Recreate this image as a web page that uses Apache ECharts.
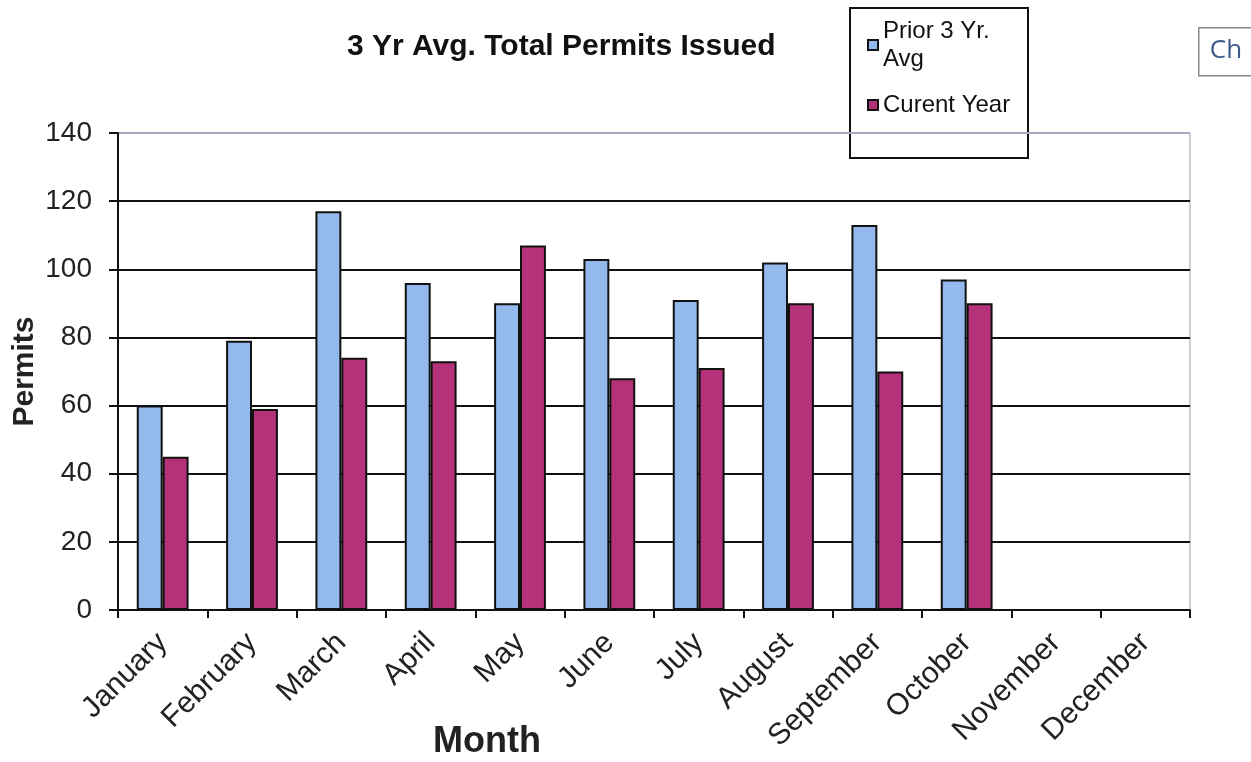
<!DOCTYPE html>
<html lang="en">
<head>
  <meta charset="UTF-8">
  <title>3 Yr Avg. Total Permits Issued</title>
  <script src="https://cdn.jsdelivr.net/npm/echarts@6/dist/echarts.min.js"></script>
  <style>
    html, body { margin: 0; padding: 0; background: #fff; }
    #main { width: 1251px; height: 762px; }
  </style>
</head>
<body>
  <div id="main"></div>
  <script>
    const months = ['January', 'February', 'March', 'April', 'May', 'June',
      'July', 'August', 'September', 'October', 'November', 'December'];
    const priorAvg = [60, 79, 117, 96, 90, 103, 91, 102, 113, 97, null, null];
    const currentYear = [45, 59, 74, 73, 107, 68, 71, 90, 70, 90, null, null];
    const yTicks = [0, 20, 40, 60, 80, 100, 120, 140];

    const font = '"Liberation Sans", Arial, sans-serif';
    const chart = echarts.init(document.getElementById('main'));

    const option = {
      animation: false,
      backgroundColor: '#fff',
      title: {
        text: '3 Yr Avg. Total Permits Issued',
        left: 342,
        top: 27,
        textStyle: { fontFamily: font, fontSize: 30, fontWeight: 'bold', color: '#111' }
      },
      legend: {
        orient: 'vertical',
        left: 862,
        top: 12,
        itemWidth: 10,
        itemHeight: 10,
        itemGap: 18,
        icon: 'rect',
        data: ['Prior 3 Yr. Avg', 'Curent Year'],
        formatter: name => name === 'Prior 3 Yr. Avg' ? 'Prior 3 Yr.\nAvg' : name,
        textStyle: { fontFamily: font, fontSize: 24, color: '#111', lineHeight: 28 }
      },
      grid: {
        left: 118,
        right: 61,
        top: 133,
        bottom: 152,
        containLabel: false,
        outerBoundsMode: 'none',
        show: true,
        borderColor: '#9a9aa8',
        borderWidth: 1
      },
      xAxis: {
        type: 'category',
        data: months,
        name: 'Month',
        nameLocation: 'middle',
        nameGap: 114,
        nameMoveOverlap: false,
        nameTextStyle: {
          fontFamily: font, fontSize: 36, fontWeight: 'bold', color: '#222',
          padding: [0, 334, 0, 0]
        },
        axisLine: { lineStyle: { color: '#111', width: 2 } },
        axisTick: { show: true, length: 8, lineStyle: { color: '#111', width: 2 } },
        axisLabel: {
          rotate: 45,
          margin: 28,
          fontFamily: font,
          fontSize: 30,
          color: '#222'
        }
      },
      yAxis: {
        type: 'value',
        min: 0,
        max: 140,
        interval: 20,
        name: 'Permits',
        nameLocation: 'middle',
        nameGap: 78,
        nameMoveOverlap: false,
        nameTextStyle: { fontFamily: font, fontSize: 30, fontWeight: 'bold', color: '#222' },
        axisLine: { show: true, lineStyle: { color: '#111', width: 2 } },
        axisTick: { show: true, length: 9, lineStyle: { color: '#111', width: 2 } },
        axisLabel: {
          margin: 26,
          fontFamily: font,
          fontSize: 28,
          color: '#222',
          formatter: v => yTicks.includes(v) ? String(v) : ''
        },
        splitLine: {
          lineStyle: {
            color: ['#111', '#111', '#111', '#111', '#111', '#111', '#111', '#a8a8c0'],
            width: 2
          }
        }
      },
      series: [
        {
          name: 'Prior 3 Yr. Avg',
          type: 'bar',
          data: priorAvg,
          barGap: '0%',
          barCategoryGap: '42%',
          itemStyle: { color: '#94b9ec', borderColor: '#111', borderWidth: 2 }
        },
        {
          name: 'Curent Year',
          type: 'bar',
          data: currentYear,
          itemStyle: { color: '#b5327a', borderColor: '#111', borderWidth: 2 }
        }
      ],
      graphic: [
        {
          type: 'rect',
          left: 849,
          top: 7,
          z: -1,
          shape: { width: 178, height: 150 },
          style: { fill: '#fff', stroke: '#111', lineWidth: 2 }
        },
        {
          type: 'group',
          left: 1198,
          top: 27,
          children: [
            {
              type: 'rect',
              shape: { x: 0, y: 0, width: 60, height: 48 },
              style: { fill: '#fff', stroke: '#8a8a8a', lineWidth: 1.5 }
            },
            {
              type: 'text',
              x: 11,
              y: 10,
              style: { text: 'Ch', fill: '#3d5a8c', font: '26px "Open Sans", sans-serif' }
            }
          ]
        }
      ]
    };

    chart.setOption(option);
    window.addEventListener('resize', chart.resize);
  </script>
</body>
</html>
